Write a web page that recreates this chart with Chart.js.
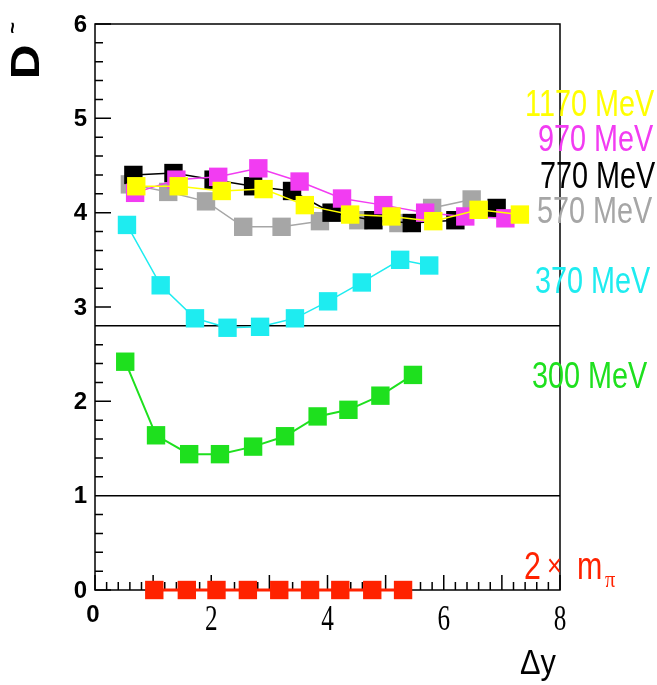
<!DOCTYPE html>
<html>
<head>
<meta charset="utf-8">
<script src="https://cdn.jsdelivr.net/npm/chart.js@4.4.1/dist/chart.umd.min.js"></script>
<style>
  html, body { margin: 0; padding: 0; background: #fff; }
  canvas { display: block; }
</style>
</head>
<body>
<canvas id="chart" width="657" height="685"></canvas>
<script>
// series values (x = Δy, y = D~)
const x1170 = [0.71, 1.44, 2.18, 2.90, 3.61, 4.39, 5.10, 5.82, 6.60, 7.31];
const d1170 = [4.28, 4.28, 4.23, 4.25, 4.08, 3.98, 3.96, 3.91, 4.03, 3.98];
const x970 = [0.69, 1.40, 2.12, 2.81, 3.52, 4.25, 4.96, 5.68, 6.37, 7.06];
const d970 = [4.21, 4.35, 4.38, 4.47, 4.33, 4.15, 4.08, 4.00, 3.96, 3.94];
const x770 = [0.66, 1.35, 2.04, 2.72, 3.39, 4.07, 4.79, 5.45, 6.20, 6.91];
const d770 = [4.40, 4.42, 4.35, 4.28, 4.23, 4.00, 3.92, 3.89, 3.92, 4.05];
const x570 = [0.60, 1.26, 1.91, 2.55, 3.21, 3.87, 4.53, 5.22, 5.80, 6.48];
const d570 = [4.30, 4.22, 4.12, 3.85, 3.85, 3.91, 3.92, 3.89, 4.05, 4.14];
const x370 = [0.55, 1.13, 1.72, 2.28, 2.84, 3.44, 4.01, 4.59, 5.25, 5.75];
const d370 = [3.87, 3.23, 2.88, 2.78, 2.79, 2.88, 3.06, 3.26, 3.50, 3.44];
const x300 = [0.52, 1.05, 1.62, 2.15, 2.72, 3.27, 3.83, 4.36, 4.91, 5.47];
const d300 = [2.42, 1.64, 1.44, 1.44, 1.52, 1.63, 1.84, 1.91, 2.06, 2.28];
const xPion = [1.02, 1.58, 2.09, 2.63, 3.17, 3.70, 4.22, 4.77, 5.30];
const dPion = [0, 0, 0, 0, 0, 0, 0, 0, 0];

const seriesNames = ['1170 MeV', '970 MeV', '770 MeV', '570 MeV', '370 MeV', '300 MeV', '2 × mπ'];
const seriesColors = ['#ffff00', '#f23cf2', '#000000', '#a6a6a6', '#1eecf0', '#1ee01e', '#ff2200'];

const xTickValues = [0, 2, 4, 6, 8];
const xTickLabels = ['0', '2', '4', '6', '8'];
const yTickValues = [0, 1, 2, 3, 4, 5, 6];
const yTickLabels = ['0', '1', '2', '3', '4', '5', '6'];
const guideLines = [1, 2.8];

const xs = [x1170, x970, x770, x570, x370, x300, xPion];
const ds = [d1170, d970, d770, d570, d370, d300, dPion];

const datasets = seriesNames.map((name, i) => ({
  label: name,
  data: xs[i].map((x, j) => ({ x: x, y: ds[i][j] })),
  showLine: true,
  borderColor: seriesColors[i],
  backgroundColor: seriesColors[i],
  borderWidth: i === 6 ? 3 : (i === 5 ? 2 : 1.5),
  pointStyle: 'rect',
  pointRadius: 13,
  pointBorderWidth: 0,
  clip: false,
}));

// label positions on the right of the frame
const labelPos = [[525, 105], [538, 140], [540, 177], [537, 212], [535, 282], [532, 377]];

function narrowText(ctx, text, x, y, sx) {
  ctx.save();
  ctx.translate(x, y);
  ctx.scale(sx, 1);
  ctx.fillText(text, 0, 0);
  ctx.restore();
}

const framePlugin = {
  id: 'frame',
  beforeDatasetsDraw(chart) {
    const { ctx, chartArea: a, scales: { x, y } } = chart;
    ctx.save();
    ctx.strokeStyle = '#000';
    ctx.lineWidth = 1.5;
    ctx.strokeRect(a.left, a.top, a.right - a.left, a.bottom - a.top);
    ctx.beginPath();
    guideLines.forEach(v => {
      const py = y.getPixelForValue(v);
      ctx.moveTo(a.left, py);
      ctx.lineTo(a.right, py);
    });
    // y ticks every 0.2, long at integers
    for (let k = 0; k <= 30; k++) {
      const py = y.getPixelForValue(k / 5);
      ctx.moveTo(a.left, py);
      ctx.lineTo(a.left + (k % 5 === 0 ? 16 : 8), py);
    }
    // x ticks every 0.2, long at integers
    for (let k = 0; k <= 40; k++) {
      const px = x.getPixelForValue(k / 5);
      ctx.moveTo(px, a.bottom);
      ctx.lineTo(px, a.bottom - (k % 5 === 0 ? 15 : 8));
    }
    ctx.stroke();

    // tick labels
    ctx.fillStyle = '#000';
    ctx.font = 'bold 24px "Liberation Sans", Arial, sans-serif';
    ctx.textAlign = 'right';
    ctx.textBaseline = 'middle';
    yTickValues.forEach((v, i) => {
      ctx.fillText(yTickLabels[i], a.left - 8, y.getPixelForValue(v) + 1);
    });
    ctx.textAlign = 'center';
    xTickValues.forEach((v, i) => {
      const px = x.getPixelForValue(v);
      if (v === 0) {
        ctx.font = 'bold 24px "Liberation Sans", Arial, sans-serif';
        narrowText(ctx, xTickLabels[i], px - 2, 615, 1);
      } else {
        ctx.font = '36px "Liberation Serif", "Times New Roman", serif';
        narrowText(ctx, xTickLabels[i], px, 621, 0.7);
      }
    });

    // axis titles
    ctx.font = '35px "Liberation Sans", Arial, sans-serif';
    ctx.textAlign = 'center';
    ctx.textBaseline = 'alphabetic';
    narrowText(ctx, 'Δy', 538, 674, 0.88);

    ctx.save();
    ctx.translate(26, 62);
    ctx.rotate(-Math.PI / 2);
    ctx.font = 'bold 40px "Liberation Sans", Arial, sans-serif';
    ctx.textBaseline = 'middle';
    ctx.save();
    ctx.scale(1.2, 1);
    ctx.fillText('D', 0, 2);
    ctx.restore();
    ctx.font = 'bold 20px "Liberation Sans", Arial, sans-serif';
    ctx.fillText('~', 34, -13);
    ctx.restore();
    ctx.restore();
  },
  afterDatasetsDraw(chart) {
    const { ctx } = chart;
    ctx.save();
    ctx.textAlign = 'left';
    ctx.textBaseline = 'middle';
    ctx.font = '36px "Liberation Sans", Arial, sans-serif';
    labelPos.forEach((p, i) => {
      ctx.fillStyle = seriesColors[i];
      narrowText(ctx, seriesNames[i], p[0], p[1] + 1, 0.8);
    });
    // 2 × mπ with subscript
    ctx.fillStyle = seriesColors[6];
    ctx.textBaseline = 'alphabetic';
    ctx.font = '38px "Liberation Sans", Arial, sans-serif';
    narrowText(ctx, '2', 524, 579, 0.8);
    ctx.font = '32px "Liberation Sans", Arial, sans-serif';
    narrowText(ctx, '×', 547, 576, 0.8);
    ctx.font = '38px "Liberation Sans", Arial, sans-serif';
    narrowText(ctx, 'm', 577, 579, 0.8);
    ctx.font = '24px "Liberation Serif", "Times New Roman", serif';
    narrowText(ctx, 'π', 605, 587, 0.85);
    ctx.restore();
  }
};

new Chart(document.getElementById('chart').getContext('2d'), {
  type: 'scatter',
  data: { datasets: datasets },
  options: {
    responsive: false,
    animation: false,
    layout: { padding: { left: 95, right: 97, top: 24, bottom: 95 } },
    scales: {
      x: { type: 'linear', min: 0, max: 8, display: false },
      y: { type: 'linear', min: 0, max: 6, display: false },
    },
    plugins: {
      legend: { display: false },
      tooltip: { enabled: false },
    },
  },
  plugins: [framePlugin],
});
</script>
</body>
</html>
